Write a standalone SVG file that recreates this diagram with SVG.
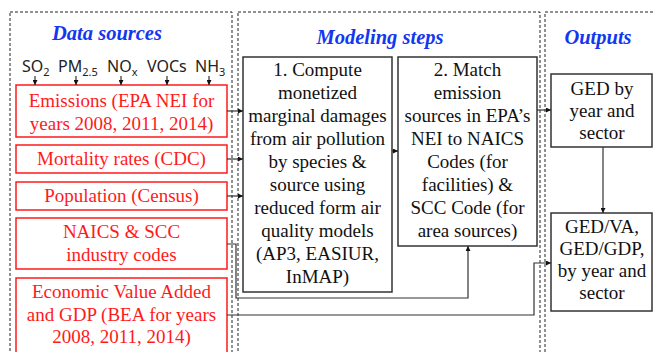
<svg xmlns="http://www.w3.org/2000/svg" width="653" height="352" viewBox="0 0 653 352">
  <defs>
    <marker id="arr" viewBox="0 0 6 6" refX="6" refY="3" markerWidth="5" markerHeight="5" markerUnits="userSpaceOnUse" orient="auto">
      <path d="M0,0 L6,3 L0,6 z" fill="#111"/>
    </marker>
    <style>
      .panel { fill: none; stroke: #222; stroke-width: 1; stroke-dasharray: 3 2; }
      .title { font-family: 'Liberation Serif', 'Times New Roman', serif; font-weight: bold; font-style: italic; font-size: 20.5px; fill: #1436f0; text-anchor: middle; }
      .src { fill: #fff; stroke: #ff1a1a; stroke-width: 1.5; }
      .srct { font-family: 'Liberation Serif', 'Times New Roman', serif; font-size: 19px; fill: #ff1a1a; text-anchor: middle; }
      .box { fill: #fff; stroke: #333; stroke-width: 1.5; }
      .boxt { font-family: 'Liberation Serif', 'Times New Roman', serif; font-size: 19px; fill: #111; text-anchor: middle; }
      .pol { font-family: 'Noto Sans', 'DejaVu Sans', sans-serif; font-size: 16px; fill: #222; }
      .sub { font-size: 11px; }
      .wire { fill: none; stroke: #333; stroke-width: 1.2; marker-end: url(#arr); }
    </style>
  </defs>

  <rect width="653" height="352" fill="#fff"/>

  <!-- column frames -->
  <g id="panels">
    <rect class="panel" x="10" y="12" width="222" height="350"/>
    <rect class="panel" x="238" y="12" width="302" height="350"/>
    <rect class="panel" x="545" y="12" width="120" height="350"/>
  </g>

  <!-- column headings -->
  <g id="headings">
    <text class="title" x="107" y="40">Data sources</text>
    <text class="title" x="380" y="44">Modeling steps</text>
    <text class="title" x="598" y="44">Outputs</text>
  </g>

  <!-- data source nodes -->
  <g id="emissions">
    <rect class="src" x="16" y="85" width="211" height="52"/>
    <text class="srct" x="121.5" y="107">Emissions (EPA NEI for</text>
    <text class="srct" x="121.5" y="130">years 2008, 2011, 2014)</text>
  </g>
  <g id="mortality">
    <rect class="src" x="16" y="145" width="211" height="28"/>
    <text class="srct" x="121.5" y="165">Mortality rates (CDC)</text>
  </g>
  <g id="population">
    <rect class="src" x="16" y="182" width="211" height="28"/>
    <text class="srct" x="121.5" y="202">Population (Census)</text>
  </g>
  <g id="naics">
    <rect class="src" x="16" y="218" width="211" height="51"/>
    <text class="srct" x="121.5" y="238">NAICS &amp; SCC</text>
    <text class="srct" x="121.5" y="261">industry codes</text>
  </g>
  <g id="value-added">
    <rect class="src" x="16" y="278" width="211" height="80"/>
    <text class="srct" x="121.5" y="298">Economic Value Added</text>
    <text class="srct" x="121.5" y="321">and GDP (BEA for years</text>
    <text class="srct" x="121.5" y="343">2008, 2011, 2014)</text>
  </g>

  <!-- modeling steps -->
  <g id="step1">
    <rect class="box" x="243" y="57" width="149" height="235"/>
    <text class="boxt" x="317.5" y="76">1. Compute</text>
    <text class="boxt" x="317.5" y="99">monetized</text>
    <text class="boxt" x="317.5" y="122">marginal damages</text>
    <text class="boxt" x="317.5" y="145">from air pollution</text>
    <text class="boxt" x="317.5" y="168">by species &amp;</text>
    <text class="boxt" x="317.5" y="191">source using</text>
    <text class="boxt" x="317.5" y="214">reduced form air</text>
    <text class="boxt" x="317.5" y="237">quality models</text>
    <text class="boxt" x="317.5" y="260">(AP3, EASIUR,</text>
    <text class="boxt" x="317.5" y="283">InMAP)</text>
  </g>
  <g id="step2">
    <rect class="box" x="398" y="57" width="139" height="189"/>
    <text class="boxt" x="467.5" y="76">2. Match</text>
    <text class="boxt" x="467.5" y="99">emission</text>
    <text class="boxt" x="467.5" y="122">sources in EPA’s</text>
    <text class="boxt" x="467.5" y="145">NEI to NAICS</text>
    <text class="boxt" x="467.5" y="168">Codes (for</text>
    <text class="boxt" x="467.5" y="191">facilities) &amp;</text>
    <text class="boxt" x="467.5" y="214">SCC Code (for</text>
    <text class="boxt" x="467.5" y="237">area sources)</text>
  </g>

  <!-- outputs -->
  <g id="ged">
    <rect class="box" x="551" y="74" width="101" height="73"/>
    <text class="boxt" x="602" y="95">GED by</text>
    <text class="boxt" x="602" y="117">year and</text>
    <text class="boxt" x="602" y="139">sector</text>
  </g>
  <g id="ged-ratios">
    <rect class="box" x="551" y="213" width="101" height="98"/>
    <text class="boxt" x="602" y="233">GED/VA,</text>
    <text class="boxt" x="602" y="255">GED/GDP,</text>
    <text class="boxt" x="602" y="277">by year and</text>
    <text class="boxt" x="602" y="299">sector</text>
  </g>

  <!-- pollutant species -->
  <g id="species">
    <text class="pol" x="22" y="72">SO<tspan class="sub" dy="4">2</tspan></text>
    <text class="pol" x="58" y="72">PM<tspan class="sub" dy="4">2.5</tspan></text>
    <text class="pol" x="107" y="72">NO<tspan class="sub" dy="4">x</tspan></text>
    <text class="pol" x="147" y="72">VOCs</text>
    <text class="pol" x="195" y="72">NH<tspan class="sub" dy="4">3</tspan></text>
  </g>

  <!-- connectors -->
  <g id="connectors">
    <path class="wire" d="M35,76 V85"/>
    <path class="wire" d="M76,76 V85"/>
    <path class="wire" d="M121,76 V85"/>
    <path class="wire" d="M167,76 V85"/>
    <path class="wire" d="M209,76 V85"/>
    <path class="wire" d="M227,111 H243"/>
    <path class="wire" d="M227,159 H243"/>
    <path class="wire" d="M227,196 H243"/>
    <path class="wire" d="M392,151 H398"/>
    <path class="wire" d="M227,244 H236 V298 H468 V246"/>
    <path class="wire" d="M537,110 H551"/>
    <path class="wire" d="M603,147 V213"/>
    <path class="wire" d="M227,315 H534 V263 H551"/>
  </g>
</svg>
